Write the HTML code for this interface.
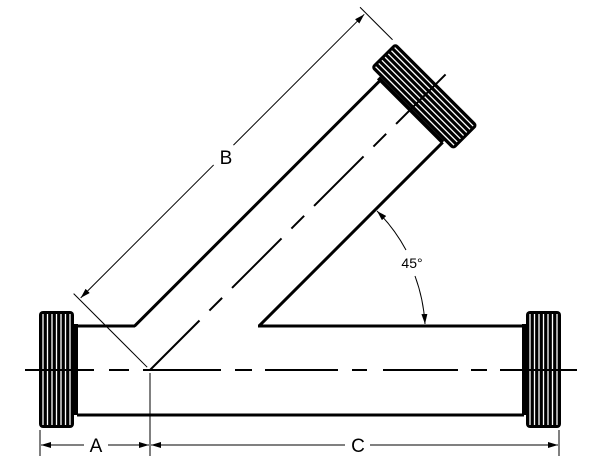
<!DOCTYPE html>
<html><head><style>html,body{margin:0;padding:0;background:#fff}svg{display:block}</style></head><body>
<svg width="600" height="464" viewBox="0 0 600 464" xmlns="http://www.w3.org/2000/svg" font-family="Liberation Sans, sans-serif">
<defs>
<marker id="ar" viewBox="0 0 10 6" refX="10" refY="3" markerWidth="10" markerHeight="6" orient="auto-start-reverse" markerUnits="userSpaceOnUse"><path d="M0,0 L10,3 L0,6 z" fill="#000"/></marker>
<g id="fl">
<rect x="0" y="0" width="35" height="117" rx="4" fill="#000"/>
<g stroke="#fff" stroke-width="1.3">
<line x1="4" y1="3" x2="4" y2="114"/><line x1="8.5" y1="3" x2="8.5" y2="114"/><line x1="13" y1="3" x2="13" y2="114"/><line x1="17.5" y1="3" x2="17.5" y2="114"/><line x1="22" y1="3" x2="22" y2="114"/><line x1="26.5" y1="3" x2="26.5" y2="114"/><line x1="31" y1="3" x2="31" y2="114"/>
</g>
<rect x="35" y="13" width="4" height="91" fill="#000"/>
</g>
</defs>
<!-- main pipe -->
<g stroke="#000" stroke-width="3" fill="none">
<line x1="77" y1="326" x2="135" y2="326"/>
<line x1="258" y1="326" x2="524" y2="326"/>
<line x1="77" y1="415" x2="524" y2="415"/>
</g>
<use href="#fl" x="39" y="311"/>
<use href="#fl" transform="translate(561,311) scale(-1,1)"/>
<!-- main centerline -->
<g stroke="#000" stroke-width="2">
<line x1="25" y1="370" x2="94" y2="370"/><line x1="109" y1="370" x2="129" y2="370"/><line x1="143" y1="370" x2="221" y2="370"/><line x1="235" y1="370" x2="252" y2="370"/><line x1="265" y1="370" x2="338" y2="370"/><line x1="352" y1="370" x2="367" y2="370"/><line x1="383" y1="370" x2="458" y2="370"/><line x1="471" y1="370" x2="487" y2="370"/><line x1="500" y1="370" x2="577" y2="370"/>
</g>
<!-- branch -->
<g transform="translate(150,370) rotate(-45)">
<g stroke="#000" stroke-width="3">
<line x1="20" y1="-42" x2="368" y2="-42"/>
<line x1="109" y1="46" x2="368" y2="46"/>
</g>
<use href="#fl" transform="translate(405,-58) scale(-1,1)"/>
<line x1="0" y1="0" x2="426" y2="0" stroke="#000" stroke-width="2" stroke-dasharray="70 14 18 14"/>
<g stroke="#000" stroke-width="1">
<line x1="0" y1="-4" x2="0" y2="-108"/>
<line x1="405" y1="-62" x2="405" y2="-108"/>
<line x1="2" y1="-100" x2="190" y2="-100" marker-start="url(#ar)"/>
<line x1="218" y1="-100" x2="403" y2="-100" marker-end="url(#ar)"/>
</g>
</g>
<text x="226" y="164" font-size="19" text-anchor="middle">B</text>
<!-- 45 arc -->
<g stroke="#000" stroke-width="1" fill="none">
<path d="M377,211 A167,167 0 0 1 406,250" marker-start="url(#ar)"/>
<path d="M415,276 A167,167 0 0 1 425,324" marker-end="url(#ar)"/>
</g>
<text x="412" y="268" font-size="14" text-anchor="middle">45°</text>
<!-- bottom dims -->
<g stroke="#000" stroke-width="1">
<line x1="40" y1="430" x2="40" y2="456"/>
<line x1="150" y1="373" x2="150" y2="456"/>
<line x1="559" y1="430" x2="559" y2="456"/>
<line x1="41" y1="445" x2="84" y2="445" marker-start="url(#ar)"/>
<line x1="108" y1="445" x2="149" y2="445" marker-end="url(#ar)"/>
<line x1="151" y1="445" x2="345" y2="445" marker-start="url(#ar)"/>
<line x1="370" y1="445" x2="558" y2="445" marker-end="url(#ar)"/>
</g>
<text x="96" y="452" font-size="19" text-anchor="middle">A</text>
<text x="358" y="452" font-size="19" text-anchor="middle">C</text>
</svg>
</body></html>
